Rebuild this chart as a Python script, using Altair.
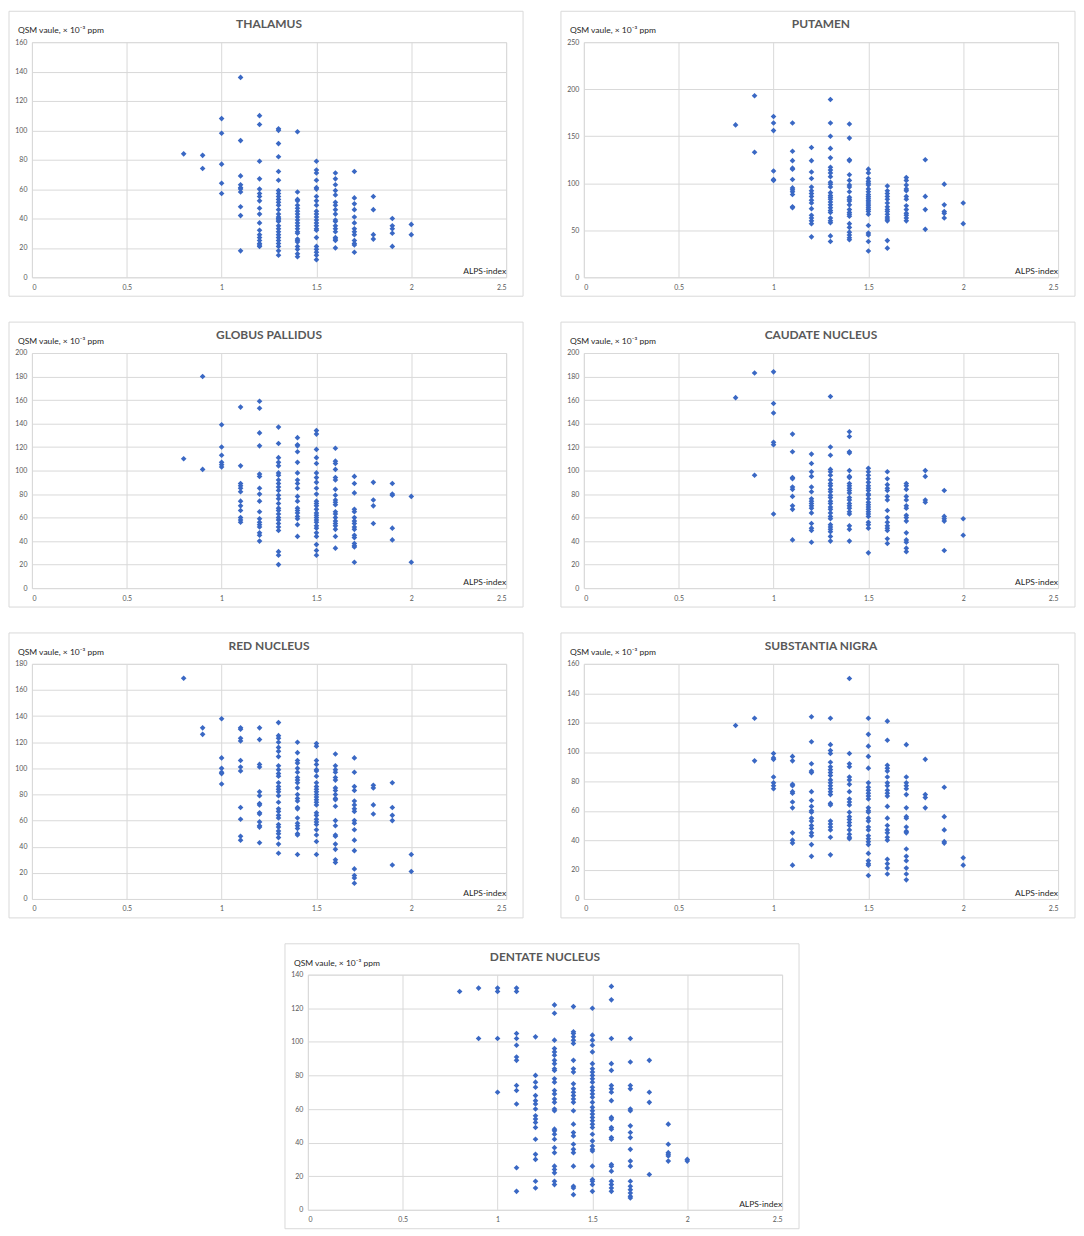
import altair as alt
import pandas as pd

# ALPS-index groups
alps = [0.8, 0.9, 1.0, 1.1, 1.2, 1.3, 1.4, 1.5, 1.6, 1.7, 1.8, 1.9, 2.0]

thalamus = [
    [84], [83, 74], [108, 98, 77, 64, 57],
    [136, 93, 69, 63, 61, 60, 58, 48, 42, 18],
    [110, 104, 79, 67, 60, 57, 55, 52, 47, 43, 37, 32, 29, 27, 25, 23, 22, 21],
    [101, 100, 91, 82, 72, 66, 59, 57, 55, 53, 51, 49, 46, 43, 41, 40, 39, 38, 35, 33, 31, 29, 27, 25, 23, 21, 18, 15],
    [99, 58, 53, 52, 49, 47, 45, 43, 41, 39, 37, 35, 33, 31, 30, 26, 25, 24, 21, 19, 16, 14],
    [79, 73, 71, 66, 61, 60, 55, 52, 49, 45, 43, 41, 39, 37, 35, 33, 32, 27, 21, 19, 17, 15, 12],
    [71, 67, 63, 59, 56, 51, 49, 46, 43, 39, 38, 35, 33, 31, 27, 26, 25, 20],
    [72, 54, 50, 46, 41, 37, 33, 31, 29, 25, 23, 22, 17],
    [55, 46, 29, 26], [40, 35, 33, 30, 21], [36, 29],
]

putamen = [
    [162], [193, 133], [171, 164, 156, 113, 104, 103],
    [164, 134, 124, 116, 115, 104, 95, 93, 91, 88, 75, 74],
    [138, 124, 112, 105, 96, 92, 89, 86, 82, 79, 73, 66, 63, 60, 57, 43],
    [189, 164, 150, 137, 127, 117, 114, 111, 107, 101, 99, 96, 90, 87, 85, 83, 80, 77, 74, 71, 69, 63, 60, 58, 44, 38],
    [163, 148, 125, 124, 109, 103, 98, 96, 91, 85, 83, 81, 77, 72, 69, 67, 65, 57, 53, 48, 45, 42, 40],
    [115, 111, 105, 102, 100, 98, 94, 91, 88, 86, 84, 82, 80, 78, 76, 74, 72, 70, 67, 55, 47, 45, 38, 28],
    [97, 92, 89, 86, 83, 79, 75, 72, 70, 67, 64, 62, 60, 39, 31],
    [106, 103, 98, 94, 92, 86, 83, 76, 72, 68, 66, 63, 60],
    [125, 86, 72, 51], [99, 77, 70, 68, 63], [79, 57],
]

globus = [
    [110], [180, 101], [139, 120, 113, 107, 105, 103],
    [154, 104, 89, 87, 85, 82, 74, 70, 66, 60, 58, 56],
    [159, 153, 132, 121, 97, 95, 85, 80, 74, 65, 59, 56, 54, 52, 47, 45, 40],
    [137, 123, 111, 107, 104, 98, 96, 92, 89, 86, 83, 79, 76, 72, 68, 66, 63, 60, 58, 55, 52, 49, 31, 28, 20],
    [128, 122, 121, 116, 107, 98, 92, 89, 85, 78, 74, 68, 66, 64, 61, 59, 54, 44],
    [134, 131, 118, 111, 106, 98, 94, 90, 85, 80, 74, 72, 70, 67, 64, 62, 60, 58, 56, 53, 51, 47, 44, 37, 32, 28],
    [119, 108, 106, 101, 94, 92, 84, 79, 75, 73, 71, 65, 63, 60, 57, 55, 53, 50, 44, 34],
    [95, 89, 81, 67, 65, 60, 57, 55, 52, 50, 45, 43, 38, 36, 35, 22],
    [90, 75, 70, 55], [89, 80, 79, 51, 41], [78, 22],
]

caudate = [
    [162], [183, 96], [184, 157, 149, 124, 122, 63],
    [131, 116, 94, 93, 86, 84, 78, 70, 67, 41],
    [114, 106, 99, 95, 86, 82, 76, 74, 72, 70, 68, 64, 55, 51, 49, 39],
    [163, 120, 113, 101, 99, 96, 92, 89, 87, 84, 82, 79, 77, 74, 72, 69, 67, 64, 61, 59, 54, 52, 50, 48, 44, 40],
    [133, 129, 116, 115, 100, 95, 94, 89, 87, 85, 83, 81, 77, 75, 72, 70, 68, 65, 63, 53, 50, 40],
    [102, 99, 96, 93, 90, 87, 85, 83, 80, 79, 76, 73, 71, 69, 67, 65, 63, 61, 56, 54, 51, 30],
    [99, 93, 88, 85, 83, 78, 75, 66, 60, 56, 53, 51, 49, 42, 38],
    [89, 87, 84, 78, 75, 70, 68, 62, 60, 57, 47, 41, 39, 34, 31],
    [100, 95, 75, 73], [83, 61, 59, 57, 32], [59, 45],
]

red = [
    [169], [131, 126], [138, 108, 100, 97, 96, 88],
    [131, 130, 123, 121, 106, 101, 98, 70, 61, 48, 45],
    [131, 122, 103, 101, 82, 79, 73, 72, 66, 65, 59, 56, 55, 43],
    [135, 125, 123, 120, 116, 113, 109, 102, 99, 96, 94, 89, 86, 84, 82, 79, 74, 69, 67, 64, 62, 57, 55, 52, 50, 47, 42, 35],
    [120, 112, 106, 104, 100, 97, 93, 91, 89, 85, 80, 77, 75, 70, 69, 62, 58, 56, 54, 50, 49, 34],
    [119, 117, 106, 103, 99, 98, 94, 89, 86, 84, 82, 80, 78, 76, 74, 72, 66, 64, 61, 59, 57, 53, 49, 44, 34],
    [111, 102, 99, 97, 93, 91, 85, 83, 80, 77, 76, 71, 60, 56, 49, 48, 42, 38, 30, 28],
    [108, 97, 86, 83, 75, 72, 69, 67, 60, 58, 53, 45, 37, 23, 18, 16, 12],
    [87, 85, 72, 65], [89, 70, 64, 60, 26], [34, 21],
]

nigra = [
    [118], [123, 94], [99, 96, 95, 83, 79, 77, 75],
    [97, 94, 78, 77, 73, 72, 66, 62, 45, 40, 38, 23],
    [124, 107, 92, 87, 86, 73, 67, 63, 60, 59, 55, 53, 50, 48, 45, 43, 37, 29],
    [123, 105, 101, 99, 93, 90, 88, 86, 84, 81, 79, 77, 75, 73, 71, 65, 64, 53, 51, 49, 47, 42, 30],
    [150, 99, 92, 90, 83, 81, 78, 73, 68, 66, 64, 59, 56, 54, 52, 50, 47, 44, 42, 41],
    [123, 112, 104, 97, 89, 79, 76, 74, 72, 70, 68, 62, 60, 59, 55, 53, 49, 47, 43, 41, 39, 37, 31, 26, 24, 23, 16],
    [121, 108, 91, 89, 87, 83, 79, 77, 74, 72, 70, 63, 55, 50, 47, 45, 42, 40, 27, 24, 21, 17],
    [105, 83, 79, 77, 75, 71, 62, 56, 55, 49, 46, 45, 34, 29, 26, 21, 17, 13],
    [95, 71, 69, 62], [76, 56, 47, 39, 38], [28, 23],
]

dentate = [
    [130], [132, 102], [132, 130, 102, 70],
    [132, 130, 105, 102, 98, 91, 89, 74, 71, 63, 25, 11],
    [103, 80, 76, 73, 68, 65, 63, 60, 56, 54, 52, 49, 42, 33, 30, 17, 13],
    [122, 117, 101, 96, 94, 92, 89, 87, 84, 83, 78, 76, 71, 69, 66, 64, 60, 59, 48, 47, 45, 42, 37, 34, 26, 24, 22, 17, 15],
    [121, 106, 105, 103, 101, 99, 89, 84, 82, 75, 72, 70, 68, 66, 64, 59, 51, 46, 44, 39, 36, 34, 26, 14, 13, 9],
    [120, 104, 101, 98, 94, 87, 84, 82, 80, 78, 76, 73, 71, 69, 67, 64, 61, 59, 57, 55, 53, 51, 49, 45, 41, 38, 36, 35, 26, 18, 17, 15, 11],
    [133, 125, 102, 87, 83, 74, 72, 70, 65, 55, 54, 49, 48, 43, 42, 27, 26, 23, 17, 15, 13, 11],
    [102, 88, 74, 72, 60, 59, 50, 46, 43, 36, 29, 26, 17, 14, 12, 10, 8, 7],
    [89, 70, 64, 21], [51, 39, 34, 33, 32, 29], [30, 29],
]

titles = ["THALAMUS", "PUTAMEN", "GLOBUS PALLIDUS", "CAUDATE NUCLEUS",
          "RED NUCLEUS", "SUBSTANTIA NIGRA", "DENTATE NUCLEUS"]
series = [thalamus, putamen, globus, caudate, red, nigra, dentate]
ymax = [160, 250, 200, 200, 180, 160, 140]
ystep = [20, 50, 20, 20, 20, 20, 20]
x_ticks = [0, 0.5, 1, 1.5, 2, 2.5]

y_label = "QSM vaule, × 10⁻³ ppm"
x_label = "ALPS-index"

W, H = 476, 236
FONT = "Lato"
BLUE = "#3a68c4"
GRID = "#d9d9d9"


def panel(title, groups, top, step):
    rows = []
    for xv, ys in zip(alps, groups):
        for yv in ys:
            rows.append({"alps": xv, "qsm": yv})
    df = pd.DataFrame(rows)
    one = pd.DataFrame({"a": [0]})

    box = alt.Chart(one).mark_rect(
        fillOpacity=0, stroke=GRID, strokeWidth=1, clip=False
    ).encode(
        x=alt.value(-23), x2=alt.value(W + 17),
        y=alt.value(-31), y2=alt.value(H + 19),
    )

    pts = alt.Chart(df).mark_point(
        shape="diamond", filled=True, size=32, color=BLUE, opacity=1
    ).encode(
        x=alt.X("alps:Q",
                scale=alt.Scale(domain=[0, 2.5], nice=False, zero=True),
                axis=alt.Axis(values=x_ticks, title=None, grid=True,
                              gridColor=GRID, domain=False, ticks=False,
                              labelExpr="datum.value + ''",
                              labelFont=FONT, labelFontSize=7,
                              labelColor="#595959", labelPadding=6)),
        y=alt.Y("qsm:Q",
                scale=alt.Scale(domain=[0, top], nice=False),
                axis=alt.Axis(values=list(range(0, top + 1, step)),
                              title=None, grid=True, gridColor=GRID,
                              domain=False, ticks=False,
                              labelFont=FONT, labelFontSize=7,
                              labelColor="#595959", labelPadding=5)),
    )

    ttl = alt.Chart(one).mark_text(
        text=title, font=FONT, fontSize=12, fontWeight="bold",
        color="#595959", align="center", baseline="middle"
    ).encode(x=alt.value(W / 2), y=alt.value(-18))

    ylab = alt.Chart(one).mark_text(
        text=y_label, font=FONT, fontSize=8.5, color="#262626",
        align="left", baseline="alphabetic"
    ).encode(x=alt.value(-14), y=alt.value(-9))

    xlab = alt.Chart(one).mark_text(
        text=x_label, font=FONT, fontSize=8.5, color="#262626",
        align="right", baseline="alphabetic"
    ).encode(x=alt.value(W), y=alt.value(H - 3))

    return alt.layer(box, pts, ttl, ylab, xlab).properties(width=W, height=H)


charts = [panel(t, s, m, st) for t, s, m, st in zip(titles, series, ymax, ystep)]

row1 = alt.hconcat(charts[0], charts[1], spacing=36)
row2 = alt.hconcat(charts[2], charts[3], spacing=36)
row3 = alt.hconcat(charts[4], charts[5], spacing=36)

chart = alt.vconcat(row1, row2, row3, charts[6], spacing=24, center=True).properties(
    padding=0
).configure_view(strokeWidth=0).configure(background="white")

chart.save("out.html", embed_options={"renderer": "svg", "actions": False})
